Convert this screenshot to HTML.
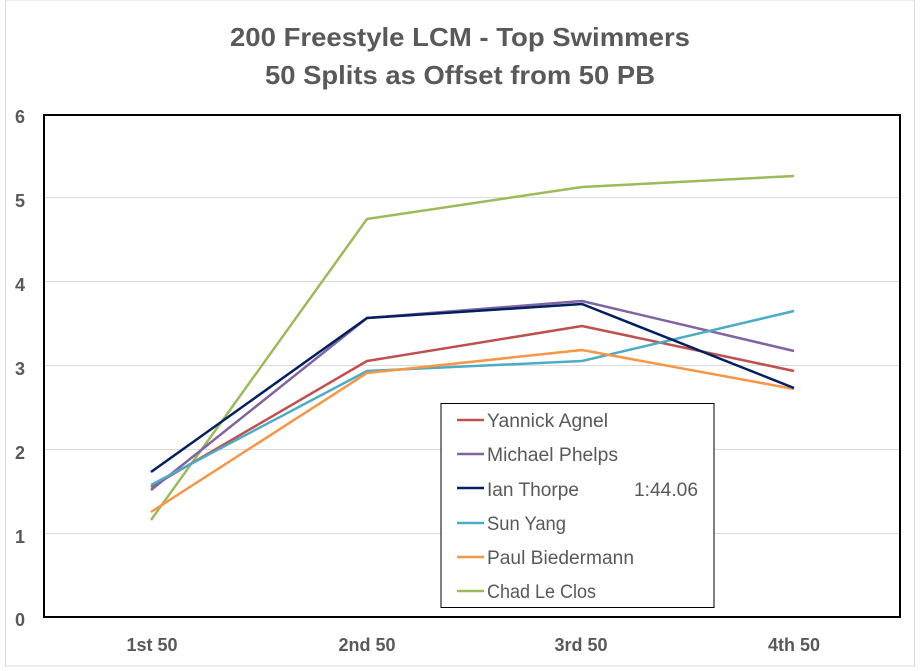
<!DOCTYPE html>
<html><head><meta charset="utf-8"><style>
html,body{margin:0;padding:0;background:#fff;}
svg{display:block;}
text{font-family:"Liberation Sans",sans-serif;fill:#595959;}
</style></head><body>
<svg width="920" height="671" viewBox="0 0 920 671" xmlns="http://www.w3.org/2000/svg">
<rect x="5.5" y="0" width="909" height="666" fill="#fff" stroke="#d9d9d9" stroke-width="1"/>
<text x="460" y="46" font-size="26" font-weight="bold" text-anchor="middle" textLength="460" lengthAdjust="spacingAndGlyphs">200 Freestyle LCM - Top Swimmers</text>
<text x="460" y="84" font-size="26" font-weight="bold" text-anchor="middle" textLength="390" lengthAdjust="spacingAndGlyphs">50 Splits as Offset from 50 PB</text>
<g stroke="#d9d9d9" stroke-width="1">
<line x1="44" x2="900" y1="533.5" y2="533.5"/>
<line x1="44" x2="900" y1="449.5" y2="449.5"/>
<line x1="44" x2="900" y1="365.5" y2="365.5"/>
<line x1="44" x2="900" y1="281.5" y2="281.5"/>
<line x1="44" x2="900" y1="197.5" y2="197.5"/>
</g>
<rect x="44" y="115" width="856" height="502" fill="none" stroke="#000" stroke-width="2"/>
<g font-size="18" font-weight="bold" text-anchor="middle">
<text x="20" y="123">6</text>
<text x="20" y="207">5</text>
<text x="20" y="291">4</text>
<text x="20" y="375">3</text>
<text x="20" y="459">2</text>
<text x="20" y="543">1</text>
<text x="20" y="626">0</text>
<text x="152" y="651">1st 50</text>
<text x="367" y="651">2nd 50</text>
<text x="581" y="651">3rd 50</text>
<text x="794" y="651">4th 50</text>
</g>
<g fill="none" stroke-width="2.5" stroke-linejoin="round">
<polyline stroke="#9bbb59" points="151,520 367,219 582,187 794,176"/>
<polyline stroke="#c0504d" points="151,487 367,361 582,326 794,371"/>
<polyline stroke="#8064a2" points="151,490 367,318 582,301 794,351"/>
<polyline stroke="#4bacc6" points="151,485 367,371 582,361 794,311"/>
<polyline stroke="#f79646" points="151,512 367,373 582,350 794,389"/>
<polyline stroke="#002060" points="151,472 367,318 582,304 794,388"/>
</g>
<rect x="441" y="403.5" width="273" height="204" fill="#fff" stroke="#000" stroke-width="1"/>
<g stroke-width="2.5">
<line x1="457" x2="484" y1="420" y2="420" stroke="#c0504d"/>
<line x1="457" x2="484" y1="454" y2="454" stroke="#8064a2"/>
<line x1="457" x2="484" y1="488" y2="488" stroke="#002060"/>
<line x1="457" x2="484" y1="523" y2="523" stroke="#4bacc6"/>
<line x1="457" x2="484" y1="557" y2="557" stroke="#f79646"/>
<line x1="457" x2="484" y1="591" y2="591" stroke="#9bbb59"/>
</g>
<g font-size="19">
<text x="487" y="427" textLength="121" lengthAdjust="spacingAndGlyphs">Yannick Agnel</text>
<text x="487" y="461" textLength="131" lengthAdjust="spacingAndGlyphs">Michael Phelps</text>
<text x="487" y="496" textLength="92" lengthAdjust="spacingAndGlyphs">Ian Thorpe</text>
<text x="634" y="496" textLength="64" lengthAdjust="spacingAndGlyphs">1:44.06</text>
<text x="487" y="530" textLength="79" lengthAdjust="spacingAndGlyphs">Sun Yang</text>
<text x="487" y="564" textLength="147" lengthAdjust="spacingAndGlyphs">Paul Biedermann</text>
<text x="487" y="598" textLength="109" lengthAdjust="spacingAndGlyphs">Chad Le Clos</text>
</g>
</svg>
</body></html>
